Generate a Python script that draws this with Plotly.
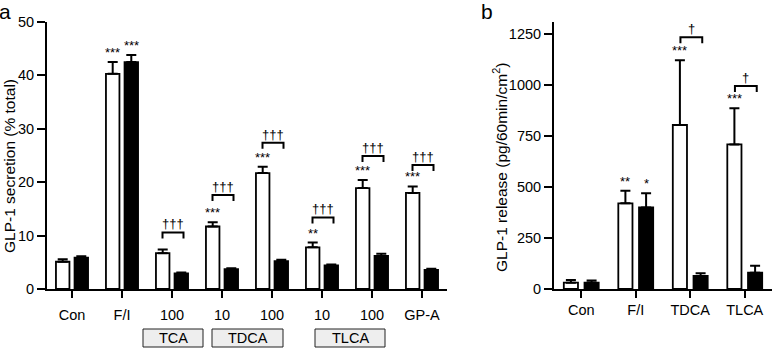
import plotly.graph_objects as go

# ---------- data: panel a ----------
a_cats = ["Con", "F/I", "100", "10", "100", "10", "100", "GP-A"]
a_white = [5.1, 40.3, 6.7, 11.7, 21.7, 7.8, 18.9, 18.0]
a_white_err = [0.45, 2.2, 0.7, 0.8, 1.2, 0.9, 1.5, 1.2]
a_black = [5.85, 42.5, 2.9, 3.7, 5.2, 4.4, 6.2, 3.6]
a_black_err = [0.3, 1.3, 0.2, 0.2, 0.3, 0.2, 0.4, 0.2]
a_white_sig = ["", "***", "", "***", "***", "**", "***", "***"]
a_black_sig = ["", "***", "", "", "", "", "", ""]
a_bracket_idx = [2, 3, 4, 5, 6, 7]
a_bracket_y = [10.6, 17.6, 27.4, 13.4, 24.9, 23.2]
a_bracket_txt = ["†††"] * 6
a_groups = ["TCA", "TDCA", "TLCA"]
a_group_span = [(1.42, 2.62), (2.8, 4.22), (4.86, 6.26)]

# ---------- data: panel b ----------
b_cats = ["Con", "F/I", "TDCA", "TLCA"]
b_white = [31, 420, 804, 709]
b_white_err = [13, 62, 318, 177]
b_black = [31, 400, 64, 80]
b_black_err = [11, 69, 13, 34]
b_white_sig = ["", "**", "***", "***"]
b_black_sig = ["", "*", "", ""]
b_bracket_idx = [2, 3]
b_bracket_y = [1234, 995]
b_bracket_txt = ["†", "†"]

FONT = "Liberation Sans, Arial, sans-serif"
W, H = 775, 350

fig = go.Figure()

def add_bars(xs, white, werr, black, berr, xa, ya, width, off):
    fig.add_trace(go.Bar(
        x=xs, y=white, width=width, offset=-off - width / 2,
        marker=dict(color="white", line=dict(color="black", width=1.8)),
        error_y=dict(type="data", array=werr, arrayminus=[0] * len(werr),
                     symmetric=False, color="black", thickness=2, width=5),
        xaxis=xa, yaxis=ya, showlegend=False, hoverinfo="skip"))
    fig.add_trace(go.Bar(
        x=xs, y=black, width=width, offset=off - width / 2,
        marker=dict(color="black", line=dict(color="black", width=1.8)),
        error_y=dict(type="data", array=berr, arrayminus=[0] * len(berr),
                     symmetric=False, color="black", thickness=2, width=5),
        xaxis=xa, yaxis=ya, showlegend=False, hoverinfo="skip"))

xa_idx = list(range(len(a_cats)))
xb_idx = list(range(len(b_cats)))
add_bars(xa_idx, a_white, a_white_err, a_black, a_black_err, "x", "y", 0.27, 0.186)
add_bars(xb_idx, b_white, b_white_err, b_black, b_black_err, "x2", "y2", 0.26, 0.19)

annotations = []
shapes = []

def sig_marks(xs, vals, errs, sigs, off, xr, yr):
    for i, v, e, s in zip(xs, vals, errs, sigs):
        if s:
            annotations.append(dict(x=i + off, y=v + e, xref=xr, yref=yr, text=s,
                                    showarrow=False, xanchor="center", yanchor="bottom",
                                    yshift=0,
                                    font=dict(family=FONT, size=13, color="black")))

sig_marks(xa_idx, a_white, a_white_err, a_white_sig, -0.186, "x", "y")
sig_marks(xa_idx, a_black, a_black_err, a_black_sig, 0.186, "x", "y")
sig_marks(xb_idx, b_white, b_white_err, b_white_sig, -0.19, "x2", "y2")
sig_marks(xb_idx, b_black, b_black_err, b_black_sig, 0.19, "x2", "y2")

def brackets(idx, ys, txts, leg, xr, yr, l, r):
    for i, y, t in zip(idx, ys, txts):
        x0, x1 = i + l, i + r
        shapes.append(dict(type="path", xref=xr, yref=yr,
                           path=f"M {x0},{y - leg} L {x0},{y} L {x1},{y} L {x1},{y - leg}",
                           line=dict(color="black", width=2)))
        annotations.append(dict(x=(x0 + x1) / 2, y=y, xref=xr, yref=yr, text=t,
                                showarrow=False, xanchor="center", yanchor="bottom",
                                yshift=-1,
                                font=dict(family=FONT, size=13, color="black")))

brackets(a_bracket_idx, a_bracket_y, a_bracket_txt, 1.12, "x", "y", -0.19, 0.23)
brackets(b_bracket_idx, b_bracket_y, b_bracket_txt, 29, "x2", "y2", -0.18, 0.22)

# group boxes under panel a
for name, (x0, x1) in zip(a_groups, a_group_span):
    shapes.append(dict(type="rect", xref="x", yref="paper", x0=x0, x1=x1,
                       y0=(H - 347) / H, y1=(H - 329) / H,
                       fillcolor="#eeeeee", line=dict(color="#222222", width=1)))
    annotations.append(dict(x=(x0 + x1) / 2, y=(H - 338) / H, xref="x", yref="paper",
                            text=name, showarrow=False, xanchor="center",
                            yanchor="middle",
                            font=dict(family=FONT, size=14.5, color="black")))

# axis titles and panel letters
annotations += [
    dict(x=9 / W, y=(H - 166) / H, xref="paper", yref="paper", textangle=-90,
         text="GLP-1 secretion (% total)", showarrow=False,
         xanchor="center", yanchor="middle",
         font=dict(family=FONT, size=15.5, color="black")),
    dict(x=500 / W, y=(H - 168) / H, xref="paper", yref="paper", textangle=-90,
         text="GLP-1 release (pg/60min/cm<sup>2</sup>)", showarrow=False,
         xanchor="center", yanchor="middle",
         font=dict(family=FONT, size=15.5, color="black")),
    dict(x=5 / W, y=(H - 11) / H, xref="paper", yref="paper", text="a",
         showarrow=False, xanchor="center", yanchor="middle",
         font=dict(family=FONT, size=21, color="black")),
    dict(x=487 / W, y=(H - 12) / H, xref="paper", yref="paper", text="b",
         showarrow=False, xanchor="center", yanchor="middle",
         font=dict(family=FONT, size=21, color="black")),
]

axis_common = dict(showgrid=False, zeroline=False, showline=True, linecolor="black",
                   linewidth=2, ticks="outside", tickcolor="black", tickwidth=2,
                   automargin=False,
                   tickfont=dict(family=FONT, size=14.5, color="black"))

fig.update_layout(
    width=W, height=H, margin=dict(l=0, r=0, t=0, b=0, autoexpand=False),
    paper_bgcolor="white", plot_bgcolor="white", barmode="overlay",
    xaxis=dict(domain=[47 / W, 447 / W], range=[-0.5, 7.5], tickvals=xa_idx,
               ticktext=a_cats, ticklen=7, ticklabelstandoff=5, anchor="y",
               **axis_common),
    yaxis=dict(domain=[61 / H, 328 / H], range=[0, 50], tickvals=[0, 10, 20, 30, 40, 50],
               ticklen=8, anchor="x", **axis_common),
    xaxis2=dict(domain=[554 / W, 772 / W], range=[-0.5, 3.5], tickvals=xb_idx,
                ticktext=b_cats, ticklen=7, anchor="y2", **axis_common),
    yaxis2=dict(domain=[61 / H, 328 / H], range=[0, 1309],
                tickvals=[0, 250, 500, 750, 1000, 1250], ticklen=8, anchor="x2",
                **axis_common),
    annotations=annotations, shapes=shapes,
)

fig.write_html("out.html", config={"displayModeBar": False},
               post_script="document.body.style.margin='0';document.body.style.overflow='hidden';")
